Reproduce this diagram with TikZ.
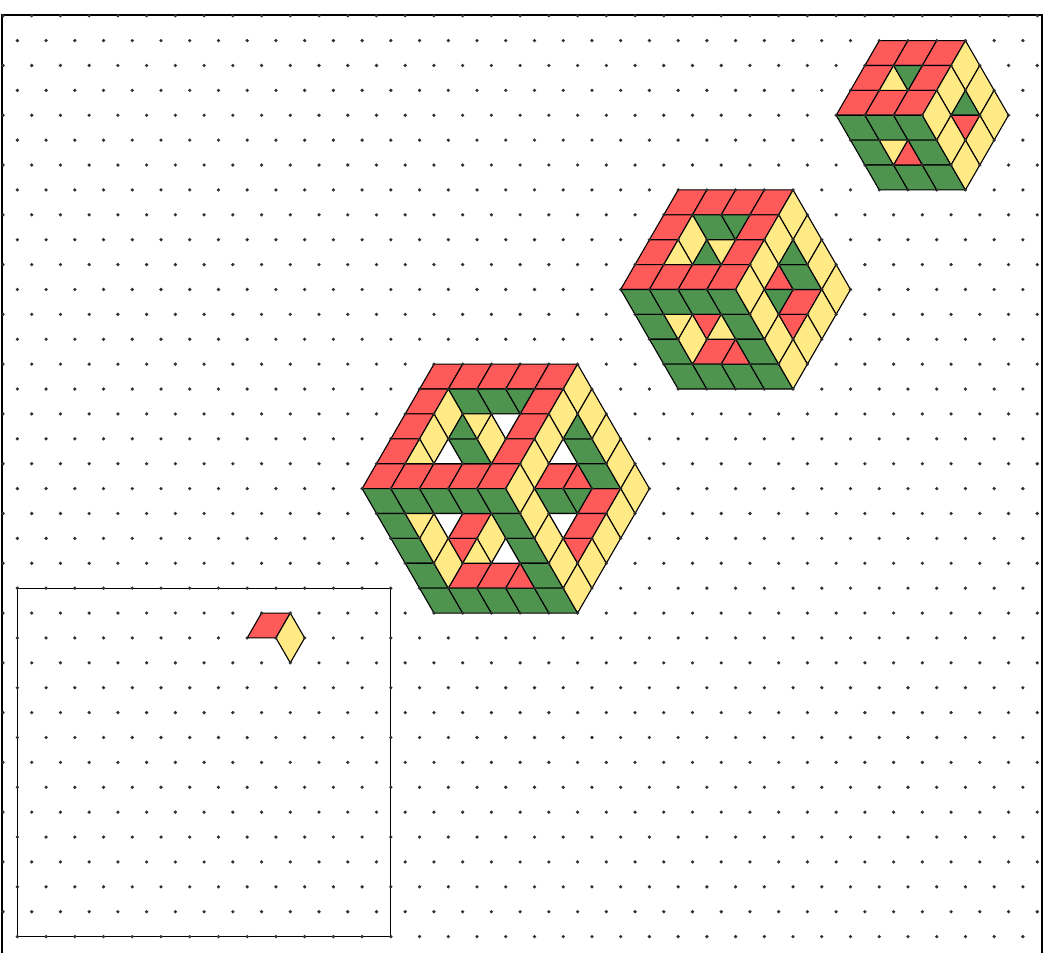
\documentclass[tikz,border=0pt]{standalone}
\definecolor{facered}{HTML}{FF5A5A}
\definecolor{faceyellow}{HTML}{FFEA85}
\definecolor{facegreen}{HTML}{4E944F}
\definecolor{dotgrey}{HTML}{303030}
\tikzset{
  face/.style={draw=black,line width=1.1pt,line join=round},
  redface/.style={face,fill=facered},
  yellowface/.style={face,fill=faceyellow},
  greenface/.style={face,fill=facegreen},
  whiteface/.style={face,fill=white},
  griddot/.style={fill=dotgrey,draw=none},
  outerframe/.style={draw=black,line width=1.6pt,line join=miter},
  innerframe/.style={draw=black,line width=0.95pt},
}
% parallelogram leaning right: top-left corner (c,r)
\newcommand{\RedP}[2]{\fill[redface] (#1,#2) -- ++(2,0) -- ++(-1,1) -- ++(-2,0) -- cycle;}
% parallelogram leaning left: top-left corner (c,r)
\newcommand{\GrnP}[2]{\fill[greenface] (#1,#2) -- ++(2,0) -- ++(1,1) -- ++(-2,0) -- cycle;}
% upright rhombus: top vertex (c,r)
\newcommand{\YelP}[2]{\fill[yellowface] (#1,#2) -- ++(1,1) -- ++(-1,1) -- ++(-1,-1) -- cycle;}
% triangle with apex up at (c,r)
\newcommand{\TriU}[3]{\fill[#3face] (#1,#2) -- ++(1,1) -- ++(-2,0) -- cycle;}
% triangle with apex down, top-left corner (c,r)
\newcommand{\TriD}[3]{\fill[#3face] (#1,#2) -- ++(2,0) -- ++(-1,1) -- cycle;}
\begin{document}
\begin{tikzpicture}[x=14.365pt,y=-24.89pt]
\useasboundingbox (-0.2088,-0.6308) rectangle (72.47,37.658);
% frames
\coordinate (fbl) at (-0.07,37.658);
\coordinate (ftl) at (-0.07,-0.03);
\coordinate (ftr) at (72.31,-0.03);
\coordinate (fbr) at (72.31,37.658);
\draw[outerframe] (fbl) -- (ftl) -- (ftr) -- (fbr);
\coordinate (ibl) at (1,37);
\coordinate (itr) at (27,23);
\draw[innerframe] (ibl) rectangle (itr);
% starting piece
\RedP{18}{24}
\YelP{20}{24}
% small hexagon
\foreach \c/\r in {61/1,63/1,65/1,60/2,64/2,59/3,61/3,63/3} {\RedP{\c}{\r}}
\foreach \c/\r in {58/4,60/4,62/4,59/5,63/5,60/6,62/6,64/6} {\GrnP{\c}{\r}}
\foreach \c/\r in {67/1,68/2,69/3,66/2,65/3,66/4,68/4,67/5} {\YelP{\c}{\r}}
\TriU{62}{2}{yellow}
\TriD{62}{2}{green}
\TriD{61}{5}{yellow}
\TriU{63}{5}{red}
\TriU{67}{3}{green}
\TriD{66}{4}{red}
% medium hexagon
\foreach \c/\r in {47/7,49/7,51/7,53/7,46/8,52/8,45/9,51/9,44/10,46/10,48/10,50/10,49/13,55/11} {\RedP{\c}{\r}}
\foreach \c/\r in {43/11,45/11,47/11,49/11,44/12,50/12,45/13,51/13,46/14,48/14,50/14,52/14,48/8,54/10} {\GrnP{\c}{\r}}
\foreach \c/\r in {55/7,56/8,57/9,58/10,54/8,53/9,52/10,53/11,57/11,56/12,54/12,55/13,48/8,48/12} {\YelP{\c}{\r}}
\TriD{50}{8}{green}
\TriU{47}{9}{yellow}
\TriU{49}{9}{green}
\TriD{49}{9}{yellow}
\TriD{46}{12}{yellow}
\TriD{48}{12}{red}
\TriU{50}{12}{yellow}
\TriU{51}{13}{red}
\TriU{55}{9}{green}
\TriU{54}{10}{red}
\TriD{53}{11}{green}
\TriD{54}{12}{red}
% large hexagon
\foreach \c/\r in {30/14,32/14,34/14,36/14,38/14,29/15,37/15,28/16,36/16,27/17,35/17,26/18,28/18,30/18,32/18,34/18,32/20,32/22,34/22,38/18,41/19,40/20} {\RedP{\c}{\r}}
\foreach \c/\r in {25/19,27/19,29/19,31/19,33/19,26/20,34/20,27/21,35/21,28/22,36/22,29/23,31/23,33/23,35/23,37/23,31/15,33/15,31/17,39/17,40/18,37/19} {\GrnP{\c}{\r}}
\foreach \c/\r in {40/14,41/15,42/16,43/17,44/18,39/15,38/16,37/17,36/18,37/19,38/20,39/21,40/22,43/19,42/20,41/21,31/15,30/16,34/16,30/20,31/21,34/20} {\YelP{\c}{\r}}
\TriD{35}{15}{green}
\TriU{32}{16}{green}
\TriD{32}{16}{yellow}
\TriD{34}{16}{white}
\TriU{29}{17}{yellow}
\TriU{31}{17}{white}
\TriD{28}{20}{yellow}
\TriD{30}{20}{white}
\TriD{31}{21}{red}
\TriU{33}{21}{yellow}
\TriU{35}{21}{white}
\TriU{36}{22}{red}
\TriU{40}{16}{green}
\TriU{39}{17}{white}
\TriU{40}{18}{red}
\TriD{39}{19}{green}
\TriD{38}{20}{white}
\TriD{39}{21}{red}
% grid
\foreach \r in {0,2,...,36}
  \foreach \c in {0,2,...,72}
    \fill[griddot] (\c,\r) circle[radius=1.8pt];
\foreach \r in {1,3,...,37}
  \foreach \c in {1,3,...,71}
    \fill[griddot] (\c,\r) circle[radius=1.8pt];
\end{tikzpicture}
\end{document}
